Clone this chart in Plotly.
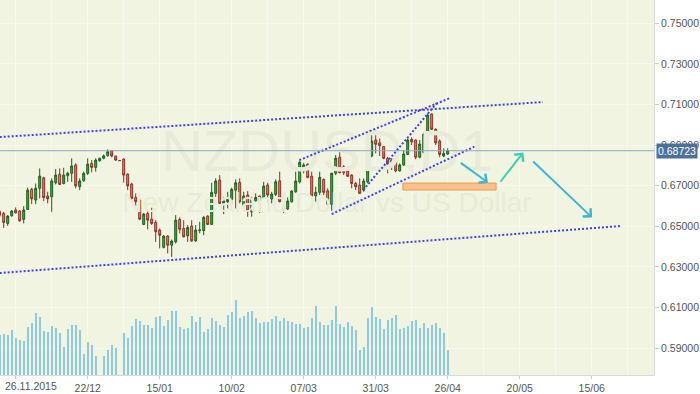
import pandas as pd
import numpy as np
import plotly.graph_objects as go

# ---------------- data ----------------
bar_index = list(range(-1, 112))   # trading-day index, 0 = 23.11.2015

open_ = [0.6571,
 0.6563,0.6514,0.6552,0.6580,0.6575,0.6534,0.6583,0.6682,0.6629,0.6687,
 0.6739,0.6649,0.6645,0.6714,0.6757,0.6711,0.6749,0.6761,0.6802,0.6695,
 0.6724,0.6761,0.6810,0.6790,0.6823,0.6835,0.6849,0.6871,0.6846,0.6823,
 0.6831,0.6757,0.6708,0.6642,0.6629,0.6509,0.6563,0.6535,0.6519,0.6481,
 0.6396,0.6452,0.6407,0.6423,0.6534,0.6489,0.6453,0.6501,0.6428,0.6479,
 0.6478,0.6550,0.6509,0.6662,0.6728,0.6613,0.6621,0.6632,0.6678,0.6716,
 0.6601,0.6654,0.6571,0.6626,0.6649,0.6642,0.6703,0.6635,0.6657,0.6724,
 0.6580,0.6585,0.6621,0.6670,0.6719,0.6773,0.6806,0.6747,0.6650,0.6667,
 0.6731,0.6675,0.6608,0.6761,0.6840,0.6793,0.6772,0.6752,0.6711,0.6703,
 0.6678,0.6719,0.6846,0.6925,0.6911,0.6892,0.6835,0.6802,0.6826,0.6773,
 0.6802,0.6854,0.6928,0.6925,0.6840,0.6864,0.6949,0.7053,0.6978,0.6920,
 0.6846,0.6856]

high = [0.6580,
 0.6571,0.6555,0.6580,0.6593,0.6580,0.6599,0.6690,0.6690,0.6711,0.6785,
 0.6744,0.6670,0.6736,0.6782,0.6785,0.6788,0.6769,0.6835,0.6810,0.6736,
 0.6769,0.6835,0.6826,0.6835,0.6838,0.6854,0.6879,0.6873,0.6847,0.6825,
 0.6835,0.6761,0.6714,0.6662,0.6637,0.6566,0.6575,0.6591,0.6530,0.6489,
 0.6456,0.6456,0.6435,0.6555,0.6544,0.6530,0.6506,0.6530,0.6506,0.6522,
 0.6550,0.6555,0.6714,0.6736,0.6752,0.6645,0.6670,0.6690,0.6731,0.6736,
 0.6670,0.6673,0.6645,0.6662,0.6651,0.6719,0.6714,0.6670,0.6731,0.6769,
 0.6604,0.6642,0.6678,0.6769,0.6823,0.6813,0.6810,0.6769,0.6695,0.6769,
 0.6736,0.6687,0.6764,0.6851,0.6876,0.6802,0.6780,0.6757,0.6719,0.6736,
 0.6736,0.6859,0.6971,0.6971,0.6933,0.6895,0.6842,0.6835,0.6840,0.6810,
 0.6876,0.6933,0.6938,0.6927,0.6925,0.6961,0.7056,0.7056,0.6982,0.6928,
 0.6884,0.6884]

low = [0.6545,
 0.6492,0.6502,0.6547,0.6563,0.6522,0.6514,0.6580,0.6609,0.6609,0.6637,
 0.6624,0.6613,0.6571,0.6706,0.6703,0.6706,0.6719,0.6719,0.6687,0.6678,
 0.6719,0.6752,0.6766,0.6769,0.6818,0.6830,0.6842,0.6840,0.6823,0.6823,
 0.6715,0.6678,0.6626,0.6596,0.6530,0.6506,0.6485,0.6506,0.6423,0.6391,
 0.6391,0.6366,0.6349,0.6415,0.6465,0.6445,0.6423,0.6423,0.6423,0.6465,
 0.6456,0.6506,0.6506,0.6645,0.6609,0.6560,0.6588,0.6609,0.6588,0.6613,
 0.6596,0.6547,0.6547,0.6621,0.6566,0.6637,0.6621,0.6613,0.6649,0.6618,
 0.6566,0.6580,0.6616,0.6665,0.6711,0.6761,0.6736,0.6642,0.6621,0.6654,
 0.6654,0.6599,0.6576,0.6752,0.6761,0.6752,0.6744,0.6687,0.6678,0.6659,
 0.6670,0.6711,0.6840,0.6859,0.6846,0.6830,0.6761,0.6777,0.6766,0.6769,
 0.6797,0.6851,0.6900,0.6830,0.6835,0.6859,0.6945,0.6974,0.6900,0.6840,
 0.6840,0.6851]

close = [0.6555,
 0.6519,0.6550,0.6575,0.6566,0.6527,0.6580,0.6678,0.6635,0.6687,0.6747,
 0.6642,0.6635,0.6723,0.6752,0.6706,0.6752,0.6761,0.6797,0.6699,0.6723,
 0.6761,0.6806,0.6790,0.6826,0.6835,0.6847,0.6867,0.6846,0.6826,0.6824,
 0.6752,0.6699,0.6637,0.6621,0.6535,0.6560,0.6530,0.6514,0.6473,0.6456,
 0.6452,0.6407,0.6427,0.6530,0.6485,0.6448,0.6494,0.6428,0.6481,0.6482,
 0.6544,0.6509,0.6667,0.6723,0.6613,0.6624,0.6632,0.6682,0.6714,0.6621,
 0.6649,0.6576,0.6632,0.6642,0.6626,0.6698,0.6654,0.6659,0.6719,0.6621,
 0.6590,0.6624,0.6673,0.6723,0.6815,0.6802,0.6741,0.6649,0.6667,0.6741,
 0.6667,0.6608,0.6761,0.6835,0.6764,0.6764,0.6746,0.6711,0.6695,0.6662,
 0.6723,0.6851,0.6920,0.6904,0.6897,0.6835,0.6805,0.6826,0.6773,0.6802,
 0.6856,0.6925,0.6916,0.6840,0.6905,0.6953,0.7048,0.6978,0.6911,0.6854,
 0.6859,0.68723]

volume = [4000,
 4100,4000,4500,3700,3500,3400,4800,5200,6200,5800,
 4400,4300,4900,4700,4200,2800,4600,5000,5000,4500,
 2100,3300,3000,1900,0,1900,2500,3000,2700,0,
 4200,3700,4900,5600,5400,5000,5000,4700,5800,5900,
 4900,5500,6400,6400,4800,4600,4700,5900,5300,5800,
 4300,4600,5700,5400,5000,4800,6000,6300,7500,5700,
 5900,6300,6400,5700,5200,5300,5300,5600,5900,5400,
 5700,5400,5300,5100,5100,4700,4800,5700,6900,5300,
 5000,5000,5500,6900,5100,4800,5300,4900,4500,2500,
 2800,5700,6800,5800,5600,4600,5500,5700,6000,4600,
 4700,4900,5400,5500,4700,5200,4700,5000,5200,4700,
 4200,2500]

tick_dates = ['2015-11-26', '2015-12-22', '2016-01-15', '2016-02-10', '2016-03-07',
              '2016-03-31', '2016-04-26', '2016-05-20', '2016-06-15']
tick_labels = ['26.11.2015', '22/12', '15/01', '10/02', '07/03',
               '31/03', '26/04', '20/05', '15/06']
price_ticks = [0.59, 0.61, 0.63, 0.65, 0.67, 0.69, 0.71, 0.73, 0.75]
last_price = 0.68723

# hand-drawn analysis objects (bar index, price)
trend_lines = [(-2, 0.6938, 134.8, 0.7112),
               (-2, 0.6268, 154.1, 0.6501),
               (73.9, 0.6826, 111.6, 0.7132),
               (82.0, 0.6560, 117.65, 0.6892),
               (89.9, 0.6679, 108.25, 0.7106)]
target_zone = (99.8, 0.66785, 123.1, 0.6713)
arrows = [((113.9, 0.6818), (121.07, 0.6715), '#3cb6d6'),
          ((123.9, 0.6712), (129.9, 0.6864), '#3ccfb0'),
          ((132.0, 0.6826), (147.1, 0.6543), '#3cb6d6')]

# ---------------- figure ----------------
days = pd.bdate_range('2015-11-20', '2016-07-15')
pos = {d.strftime('%Y-%m-%d'): k - 1 for k, d in enumerate(days)}
tickvals = [pos[d] for d in tick_dates]
minor_vals = [v + 9 for v in tickvals]

x_range = [-0.925, 162.575]
y_range = [0.5767, 0.7615]

AX_FONT = dict(family='Liberation Sans, Arial, sans-serif', size=10.5, color='#555555')
BG = '#f2f4e2'
GRID = '#f8f8f0'

fig = go.Figure()

xc = sum(x_range) / 2
fig.add_trace(go.Scatter(x=[xc], y=[0.6846], mode='text', text=['NZDUSD,D1'],
                         textfont=dict(family='Liberation Sans, Arial, sans-serif', size=58, color='#e9ebda'),
                         hoverinfo='skip', showlegend=False))
fig.add_trace(go.Scatter(x=[xc], y=[0.6605], mode='text', text=['New Zealand Dollar vs US Dollar'],
                         textfont=dict(family='Liberation Sans, Arial, sans-serif', size=28, color='#e9ebda'),
                         hoverinfo='skip', showlegend=False))

fig.add_trace(go.Bar(x=bar_index, y=volume, yaxis='y2', width=0.32,
                     marker=dict(color='#8ecae4', line=dict(width=0)),
                     hoverinfo='skip', showlegend=False))

fig.add_trace(go.Candlestick(
    x=bar_index, open=open_, high=high, low=low, close=close,
    increasing=dict(fillcolor='#2bbd2b', line=dict(color='#1f5c1f', width=1)),
    decreasing=dict(fillcolor='#ea8470', line=dict(color='#8a2e20', width=1)),
    whiskerwidth=0, showlegend=False))

shapes = []
for x0, y0, x1, y1 in trend_lines:
    shapes.append(dict(type='line', xref='x', yref='y', x0=x0, y0=y0, x1=x1, y1=y1,
                       line=dict(color='#3f3ff0', width=2, dash='2px,2px')))
zx0, zy0, zx1, zy1 = target_zone
shapes.append(dict(type='rect', xref='x', yref='y', x0=zx0, y0=zy0, x1=zx1, y1=zy1,
                   fillcolor='#f9c18e', line=dict(color='#f0984c', width=1)))
shapes.append(dict(type='line', xref='paper', yref='y', x0=0, x1=1, y0=last_price, y1=last_price,
                   line=dict(color='#8fa8c4', width=1)))

annotations = []
for (tx, ty), (hx, hy), col in arrows:
    annotations.append(dict(x=hx, y=hy, ax=tx, ay=ty, xref='x', yref='y', axref='x', ayref='y',
                            showarrow=True, arrowhead=4, arrowsize=1.1, arrowwidth=2,
                            arrowcolor=col, text='', standoff=0))
annotations.append(dict(xref='paper', yref='y', x=1, y=last_price, xanchor='left', yanchor='middle',
                        xshift=2, text='%.5f' % last_price, showarrow=False,
                        bgcolor='#4d7099', borderpad=1,
                        font=dict(family=AX_FONT['family'], size=10.5, color='white')))
annotations.append(dict(xref='paper', yref='paper', x=2.7 / 654, y=0, xanchor='left', yanchor='top',
                        yshift=-3, text=tick_labels[0], showarrow=False, font=AX_FONT))

fig.update_layout(
    width=700, height=394, autosize=False,
    margin=dict(l=0, r=46, t=0, b=19, pad=0),
    paper_bgcolor='white', plot_bgcolor=BG,
    showlegend=False, template='none',
    shapes=shapes, annotations=annotations,
    bargap=0,
    xaxis=dict(range=x_range, tickmode='array', tickvals=tickvals,
               ticktext=[''] + tick_labels[1:], tickfont=AX_FONT,
               ticks='outside', ticklen=3, tickcolor='#cccccc',
               showgrid=True, gridcolor=GRID, gridwidth=1,
               minor=dict(tickmode='array', tickvals=minor_vals, showgrid=True,
                          gridcolor=GRID, ticks=''),
               showline=True, linecolor='#d9d9d9', linewidth=1,
               zeroline=False, rangeslider=dict(visible=False),
               automargin=False, fixedrange=True),
    yaxis=dict(range=y_range, side='right', tickmode='array', tickvals=price_ticks,
               tickformat='.5f', tickfont=AX_FONT,
               ticks='outside', ticklen=4, tickcolor='#cccccc',
               showgrid=True, gridcolor=GRID, gridwidth=1,
               showline=True, linecolor='#d9d9d9', linewidth=1,
               zeroline=False, automargin=False),
    yaxis2=dict(range=[0, 37500], overlaying='y', visible=False, showgrid=False,
                zeroline=False, automargin=False),
)

fig.write_html('out.html', config={'displayModeBar': False},
               post_script="document.body.style.margin='0';document.body.style.overflow='hidden';")
